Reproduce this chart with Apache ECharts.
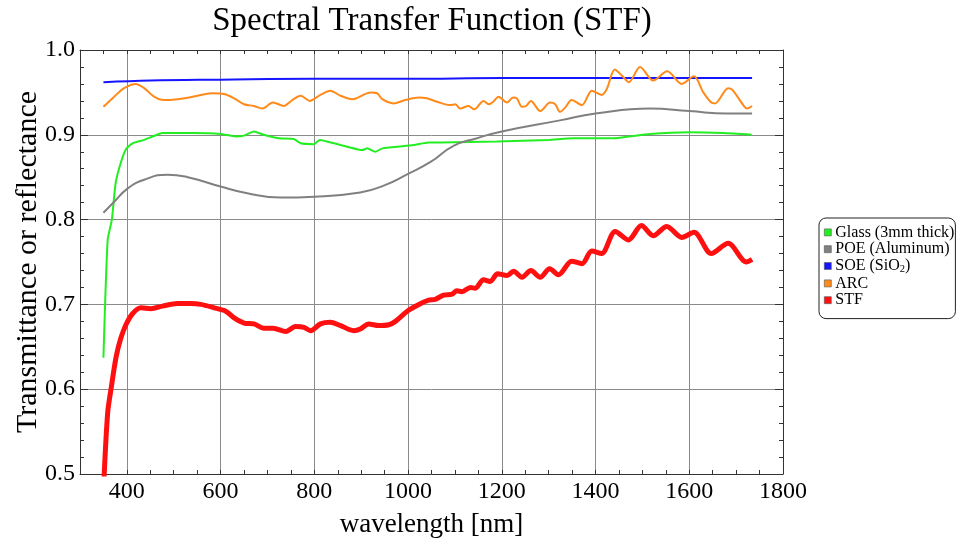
<!DOCTYPE html>
<html>
  <head>
    <meta charset="utf-8" />
    <title>Spectral Transfer Function</title>
    <script src="https://cdn.jsdelivr.net/npm/echarts@6/dist/echarts.min.js"></script>
  </head>
  <body style="margin:0">
    <div id="main" style="width:960px;height:549px;"></div>
    <script type="text/javascript">
      // wavelength [nm] / value pairs
      var glassWl = [350, 359, 368, 376, 387, 398, 412, 437, 455, 476, 540, 600, 632, 650, 671, 692, 724, 756, 771, 799, 812, 842, 870, 902, 913, 930, 945, 1012, 1044, 1069, 1190, 1300, 1353, 1435, 1516, 1601, 1672, 1733];
      var glassT = [0.637, 0.776, 0.800, 0.843, 0.867, 0.883, 0.890, 0.894, 0.898, 0.902, 0.902, 0.901, 0.898, 0.899, 0.904, 0.900, 0.896, 0.895, 0.890, 0.889, 0.894, 0.890, 0.886, 0.882, 0.884, 0.880, 0.884, 0.888, 0.891, 0.891, 0.892, 0.894, 0.896, 0.896, 0.901, 0.903, 0.902, 0.900];

      var poeWl = [350, 373, 400, 437, 487, 530, 600, 657, 728, 800, 898, 948, 1000, 1048, 1097, 1147, 1200, 1324, 1400, 1516, 1600, 1680, 1734];
      var poeR = [0.808, 0.821, 0.836, 0.847, 0.853, 0.850, 0.839, 0.831, 0.826, 0.827, 0.832, 0.840, 0.854, 0.868, 0.887, 0.896, 0.904, 0.917, 0.925, 0.931, 0.928, 0.925, 0.925];

      var soeWl = [350, 450, 600, 800, 1000, 1200, 1500, 1734];
      var soeT = [0.962, 0.964, 0.965, 0.966, 0.966, 0.967, 0.967, 0.967];

      var arcWl = [350, 373, 394, 419, 437, 458, 479, 508, 533, 558, 583, 607, 629, 650, 671, 689, 712, 735, 753, 771, 790, 813, 834, 856, 881, 920, 934, 945, 969, 994, 1023, 1040, 1062, 1090, 1101, 1111, 1129, 1141, 1161, 1172, 1182, 1193, 1211, 1224, 1232, 1243, 1252, 1262, 1282, 1303, 1314, 1324, 1335, 1349, 1371, 1392, 1413, 1424, 1441, 1456, 1471, 1495, 1523, 1553, 1584, 1610, 1630, 1647, 1655, 1683, 1692, 1718, 1723, 1734];
      var arcT = [0.933, 0.945, 0.955, 0.960, 0.955, 0.945, 0.941, 0.942, 0.944, 0.947, 0.949, 0.948, 0.943, 0.936, 0.934, 0.931, 0.938, 0.934, 0.941, 0.946, 0.940, 0.947, 0.952, 0.946, 0.942, 0.950, 0.949, 0.942, 0.937, 0.941, 0.944, 0.943, 0.939, 0.935, 0.936, 0.931, 0.934, 0.930, 0.940, 0.936, 0.939, 0.945, 0.938, 0.944, 0.943, 0.933, 0.934, 0.940, 0.928, 0.938, 0.936, 0.927, 0.932, 0.941, 0.935, 0.952, 0.947, 0.954, 0.977, 0.970, 0.962, 0.980, 0.964, 0.975, 0.960, 0.969, 0.950, 0.938, 0.937, 0.955, 0.953, 0.933, 0.931, 0.934];

      var stfWl = [350, 359, 367, 377, 387, 398, 412, 430, 451, 476, 508, 536, 558, 586, 611, 629, 650, 671, 692, 712, 739, 760, 778, 792, 813, 834, 856, 884, 898, 916, 937, 959, 973, 1001, 1023, 1044, 1058, 1076, 1094, 1104, 1115, 1133, 1143, 1161, 1175, 1191, 1211, 1225, 1243, 1262, 1282, 1302, 1321, 1349, 1371, 1392, 1413, 1442, 1470, 1498, 1523, 1552, 1584, 1610, 1647, 1683, 1722, 1734];
      var stfT = [0.480, 0.572, 0.603, 0.638, 0.660, 0.676, 0.689, 0.696, 0.695, 0.698, 0.701, 0.701, 0.700, 0.696, 0.692, 0.684, 0.678, 0.677, 0.672, 0.672, 0.668, 0.674, 0.673, 0.669, 0.677, 0.679, 0.675, 0.669, 0.671, 0.677, 0.675, 0.676, 0.680, 0.693, 0.700, 0.705, 0.706, 0.711, 0.712, 0.716, 0.715, 0.720, 0.719, 0.729, 0.727, 0.736, 0.734, 0.739, 0.732, 0.740, 0.732, 0.742, 0.735, 0.751, 0.748, 0.763, 0.760, 0.786, 0.776, 0.793, 0.781, 0.792, 0.779, 0.785, 0.760, 0.772, 0.750, 0.753];

      function pairs(xs, ys) {
        return xs.map(function (x, i) { return [x, ys[i]]; });
      }

      var serif = "'Liberation Serif', 'Times New Roman', serif";
      var frame = '#333';
      var gridGray = '#8a8a8a';

      var myChart = echarts.init(document.getElementById('main'));
      var option = {
        backgroundColor: '#fff',
        animation: false,
        title: {
          text: 'Spectral Transfer Function (STF)',
          left: 427,
          textAlign: 'center',
          top: 0,
          textStyle: { fontFamily: serif, fontWeight: 'normal', fontSize: 33, color: '#000' }
        },
        grid: { left: 80, right: 177, top: 50, bottom: 75, outerBoundsMode: 'none', containLabel: false },
        legend: {
          orient: 'vertical',
          left: 819,
          top: 218,
          padding: [6, 1, 10, 5],
          itemGap: 0,
          itemWidth: 7,
          itemHeight: 7,
          icon: 'rect',
          borderColor: '#222',
          borderWidth: 1,
          borderRadius: 7,
          itemStyle: { borderColor: '#555', borderWidth: 0.6 },
          formatter: function (name) {
            return name.replace('SiO2', 'SiO{sub|2}');
          },
          textStyle: {
            fontFamily: serif, fontSize: 16, color: '#000', lineHeight: 16.8, padding: [0, 0, 0, -1],
            rich: { sub: { fontFamily: serif, fontSize: 10.5, color: '#000', padding: [7, 0, 0, 0] } }
          },
          data: ['Glass (3mm thick)', 'POE (Aluminum)', 'SOE (SiO2)', 'ARC', 'STF']
        },
        xAxis: [
          {
            type: 'value', min: 300, max: 1800, interval: 50,
            name: 'wavelength [nm]', nameLocation: 'middle', nameGap: 37, nameMoveOverlap: false,
            nameTextStyle: { fontFamily: serif, fontSize: 27, color: '#000' },
            axisLine: { lineStyle: { color: frame, width: 1 } },
            axisTick: { inside: true, length: 4, lineStyle: { color: frame } },
            axisLabel: {
              fontFamily: serif, fontSize: 24, color: '#000', margin: 6,
              formatter: function (v) { return (v % 200 === 0 && v >= 400) ? String(v) : ''; }
            },
            // ticks start at 300: only every fourth one (400, 600, ...) gets a grid line
            splitLine: { show: true, lineStyle: { color: ['rgba(0,0,0,0)', 'rgba(0,0,0,0)', gridGray, 'rgba(0,0,0,0)'], width: 1 } }
          },
          {
            type: 'value', min: 300, max: 1800, interval: 50, position: 'top',
            axisLine: { lineStyle: { color: frame, width: 1 } },
            axisTick: { inside: true, length: 4, lineStyle: { color: frame } },
            axisLabel: { show: false },
            splitLine: { show: false }
          }
        ],
        yAxis: [
          {
            type: 'value', min: 0.5, max: 1.0, interval: 0.1,
            name: 'Transmittance or reflectance', nameLocation: 'middle', nameGap: 37, nameMoveOverlap: false,
            nameTextStyle: { fontFamily: serif, fontSize: 30, color: '#000' },
            axisLine: { show: true, lineStyle: { color: frame, width: 1 } },
            axisTick: { show: true, inside: true, length: 8, lineStyle: { color: frame } },
            minorTick: { show: true, splitNumber: 5, length: 4, lineStyle: { color: frame } },
            axisLabel: {
              fontFamily: serif, fontSize: 24, color: '#000', margin: 5,
              formatter: function (v) { return v.toFixed(1); }
            },
            splitLine: { show: true, lineStyle: { color: gridGray, width: 1 } }
          },
          {
            type: 'value', min: 0.5, max: 1.0, interval: 0.1, position: 'right',
            axisLine: { show: true, lineStyle: { color: frame, width: 1 } },
            axisTick: { show: true, inside: true, length: 8, lineStyle: { color: frame } },
            minorTick: { show: true, splitNumber: 5, length: 4, lineStyle: { color: frame } },
            axisLabel: { show: false },
            splitLine: { show: false }
          }
        ],
        series: [
          {
            name: 'Glass (3mm thick)', type: 'line', showSymbol: false, smooth: 0.2,
            color: '#22ee22', lineStyle: { width: 2 },
            data: pairs(glassWl, glassT)
          },
          {
            name: 'POE (Aluminum)', type: 'line', showSymbol: false, smooth: 0.5,
            color: '#808080', lineStyle: { width: 2 },
            data: pairs(poeWl, poeR)
          },
          {
            name: 'SOE (SiO2)', type: 'line', showSymbol: false, smooth: 0.4,
            color: '#1515ff', lineStyle: { width: 2 },
            data: pairs(soeWl, soeT)
          },
          {
            name: 'ARC', type: 'line', showSymbol: false, smooth: 0.3,
            color: '#ff8a1a', lineStyle: { width: 2 },
            data: pairs(arcWl, arcT)
          },
          {
            name: 'STF', type: 'line', showSymbol: false, smooth: 0.3,
            color: '#ff1010', lineStyle: { width: 5 },
            data: pairs(stfWl, stfT)
          }
        ]
      };
      myChart.setOption(option);
    </script>
  </body>
</html>
